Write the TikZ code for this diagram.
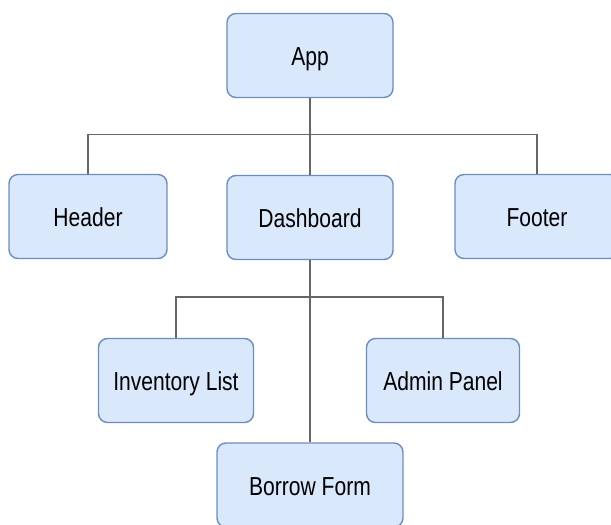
\documentclass[tikz,border=0pt]{standalone}
\usepackage{fontspec}
\setmainfont{Liberation Sans}
\newfontfamily\labelfont[FakeStretch=0.81]{Liberation Sans}
\definecolor{boxfill}{HTML}{DAE8FC}
\definecolor{boxline}{HTML}{6C8EBF}
\definecolor{wire}{HTML}{666666}
\begin{document}
\begin{tikzpicture}[x=1pt,y=-1pt,
  comp/.style={draw=boxline, fill=boxfill, line width=1.4pt, rounded corners=9pt,
    minimum height=84pt, inner sep=0pt, text height=20pt, text depth=0pt,
    font=\labelfont\fontsize{26}{30}\selectfont, text=black},
  link/.style={draw=wire, line width=1.6pt}]
\useasboundingbox (0,0) rectangle (611,525);
\clip (0,0) rectangle (611,525);
% top level
\node[comp, minimum width=166pt] (app) at (310,55.5) {App};
% second level
\node[comp, minimum width=158pt] (header) at (88,216.5) {Header};
\node[comp, minimum width=166pt] (dash) at (310,217.5) {Dashboard};
\node[comp, minimum width=164pt] (footer) at (537,216.5) {Footer};
% third level
\node[comp, minimum width=155pt] (inv) at (176,380.5) {Inventory List};
\node[comp, minimum width=153pt] (admin) at (443,380.5) {Admin Panel};
\node[comp, minimum width=186pt] (borrow) at (310,485) {Borrow Form};
% connectors from App
\coordinate (bus1) at (310,134.5);
\draw[link] (app.south) -- (dash.north);
\draw[link] (header.north) |- (bus1) -| (footer.north);
% connectors from Dashboard
\coordinate (bus2) at (310,297);
\draw[link] (dash.south) -- (borrow.north);
\draw[link] (inv.north) |- (bus2) -| (admin.north);
\end{tikzpicture}
\end{document}
